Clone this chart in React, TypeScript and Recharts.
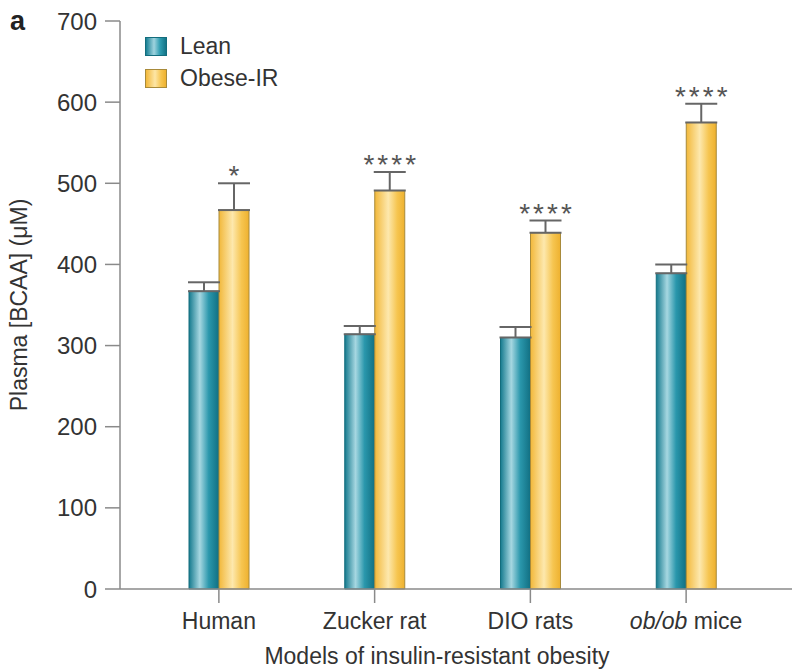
import React from 'react';
import { BarChart, Bar, XAxis, YAxis, ErrorBar, LabelList, Legend } from 'recharts';

// values (plasma BCAA, µM)
const categories = ['Human', 'Zucker rat', 'DIO rats', 'ob/ob mice'];
const leanValues = [367, 314, 310, 389];
const leanErrors = [11, 10, 13, 11];
const obeseValues = [467, 491, 439, 575];
const obeseErrors = [33, 23, 15, 23];
const significance = ['*', '****', '****', '****'];
const yTicks = [0, 100, 200, 300, 400, 500, 600, 700];

const data = categories.map((name, i) => ({
  name,
  lean: leanValues[i],
  leanErr: [0, leanErrors[i]],
  obese: obeseValues[i],
  obeseErr: [0, obeseErrors[i]],
}));

const FONT = 'Liberation Sans, Arial, sans-serif';
const AXIS = '#8a8a8a';
const TEXT = '#333';

const CategoryTick = (props: any) => {
  const { x, y, payload } = props;
  const v: string = payload.value;
  return (
    <text x={x} y={y} dy="0.71em" textAnchor="middle" fontSize={23} fontFamily={FONT} fill={TEXT}>
      {v.startsWith('ob/ob') ? (
        <>
          <tspan fontStyle="italic">ob/ob</tspan>
          <tspan>{v.slice(5)}</tspan>
        </>
      ) : (
        v
      )}
    </text>
  );
};

const Stars = (props: any) => {
  const { x, y, width, height, index, value } = props;
  if (!value) return null;
  // pixels per unit from the bar itself
  const capY = y - (obeseErrors[index] * height) / value;
  return (
    <text
      x={x + width / 2 + 1.5}
      y={capY + 2}
      textAnchor="middle"
      fontSize={28}
      letterSpacing={3}
      fontFamily={FONT}
      fill="#555"
    >
      {significance[index]}
    </text>
  );
};

const LegendBox = () => {
  const items = [
    { label: 'Lean', bg: 'linear-gradient(90deg,#177f93 0%,#9fd3de 40%,#2f9db1 70%,#137487 100%)', border: '#136d7d' },
    { label: 'Obese-IR', bg: 'linear-gradient(90deg,#f2b83a 0%,#fde6a6 45%,#f6c550 75%,#eeb12f 100%)', border: '#a88a3a' },
  ];
  return (
    <div style={{ fontFamily: FONT, fontSize: 23, color: TEXT }}>
      {items.map((it) => (
        <div key={it.label} style={{ display: 'flex', alignItems: 'center', height: 32 }}>
          <div style={{ width: 20, height: 17, background: it.bg, border: `1px solid ${it.border}`, marginRight: 13 }} />
          <span>{it.label}</span>
        </div>
      ))}
    </div>
  );
};

export default function App() {
  return (
    <div style={{ position: 'absolute', left: 0, top: 0, width: 792, height: 671, background: '#fff' }}>
      <BarChart
        width={792}
        height={671}
        data={data}
        margin={{ top: 21, right: 0, bottom: 0, left: 0 }}
        barSize={30}
        barGap={0}
      >
        <defs>
          <linearGradient id="leanGrad" x1="0" y1="0" x2="1" y2="0">
            <stop offset="0%" stopColor="#157a8e" />
            <stop offset="36%" stopColor="#a6d7e1" />
            <stop offset="66%" stopColor="#2a97ac" />
            <stop offset="100%" stopColor="#116f82" />
          </linearGradient>
          <linearGradient id="obeseGrad" x1="0" y1="0" x2="1" y2="0">
            <stop offset="0%" stopColor="#f2b83a" />
            <stop offset="45%" stopColor="#fde8ad" />
            <stop offset="75%" stopColor="#f6c550" />
            <stop offset="100%" stopColor="#eeb12f" />
          </linearGradient>
        </defs>
        <XAxis
          dataKey="name"
          padding={{ left: 21, right: 28 }}
          axisLine={{ stroke: AXIS, strokeWidth: 1.5 }}
          tickLine={{ stroke: AXIS, strokeWidth: 1.5 }}
          tickSize={14}
          tickMargin={10}
          tick={<CategoryTick />}
          height={82}
          label={{
            content: (p: any) => {
              const vb = p.viewBox || { x: 120, y: 589, width: 672 };
              return (
                <text x={vb.x + vb.width / 2 - 19} y={vb.y + 75} textAnchor="middle" fontSize={23} fontFamily={FONT} fill={TEXT}>
                  Models of insulin-resistant obesity
                </text>
              );
            },
          }}
        />
        <YAxis
          width={120}
          domain={[0, 700]}
          ticks={yTicks}
          interval={0}
          axisLine={{ stroke: AXIS, strokeWidth: 1.5 }}
          tickLine={{ stroke: AXIS, strokeWidth: 1.5 }}
          tickSize={15}
          tickMargin={8}
          tick={{ fontSize: 24, fontFamily: FONT, fill: TEXT }}
          label={{
            content: (p: any) => {
              const vb = p.viewBox || { x: 0, y: 21, width: 120, height: 568 };
              const cy = vb.y + vb.height / 2;
              return (
                <text
                  x={19}
                  y={cy}
                  transform={`rotate(-90, 19, ${cy})`}
                  textAnchor="middle"
                  dominantBaseline="central"
                  fontSize={23}
                  fontFamily={FONT}
                  fill={TEXT}
                >
                  Plasma [BCAA] (μM)
                </text>
              );
            },
          }}
        />
        <Legend
          layout="vertical"
          verticalAlign="middle"
          align="center"
          content={<LegendBox />}
          wrapperStyle={{ left: 145, top: 30, width: 200 }}
        />
        <Bar dataKey="lean" name="Lean" fill="url(#leanGrad)" stroke="#136d7d" strokeWidth={1} isAnimationActive={false}>
          <ErrorBar dataKey="leanErr" width={16} stroke="#666" strokeWidth={2} direction="y" isAnimationActive={false} />
        </Bar>
        <Bar dataKey="obese" name="Obese-IR" fill="url(#obeseGrad)" stroke="#a88a3a" strokeWidth={1} isAnimationActive={false}>
          <ErrorBar dataKey="obeseErr" width={16} stroke="#666" strokeWidth={2} direction="y" isAnimationActive={false} />
          <LabelList dataKey="obese" content={<Stars />} />
        </Bar>
      </BarChart>
      <div
        style={{
          position: 'absolute',
          left: 10,
          top: 8,
          fontFamily: FONT,
          fontWeight: 'bold',
          fontSize: 27,
          color: '#222',
          lineHeight: '27px',
        }}
      >
        a
      </div>
    </div>
  );
}
